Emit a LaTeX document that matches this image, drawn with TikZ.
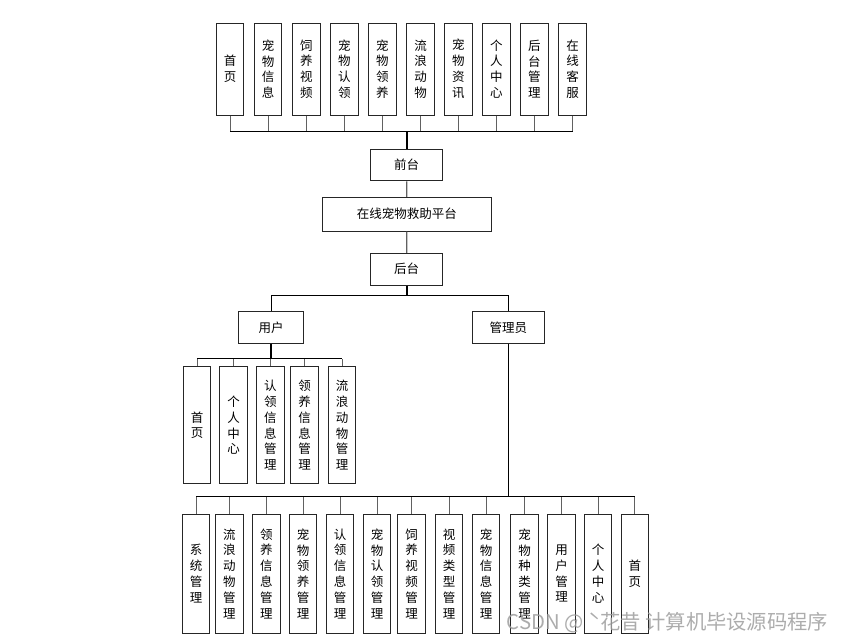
\documentclass[tikz,border=0pt]{standalone}
\usepackage{fontspec}
\newfontfamily\cjk{Noto Sans CJK SC}
\begin{document}
\begin{tikzpicture}[x=1pt,y=-1pt,every node/.style={font=\cjk\fontsize{12.5}{15.8}\selectfont},
    caja/.style={draw=black!85,line width=1pt,fill=white,inner sep=0pt,align=center},
    vcaja/.style={caja,minimum width=27.5,minimum height=#1},
    rama/.style={draw=black!62,line width=1pt},
    bus/.style={draw=black,line width=1pt},
    tronco/.style={draw=black,line width=1.8pt}]
    \useasboundingbox (0,0) rectangle (845,641);
    % Estructura del sitio: front, plataforma y back.
    \foreach \x/\txt [count=\i] in {230/{首\\页},268/{宠\\物\\信\\息},306.3/{饲\\养\\视\\频},344.3/{宠\\物\\认\\领},382.3/{宠\\物\\领\\养},420.7/{流\\浪\\动\\物},458.3/{宠\\物\\资\\讯},496.3/{个\\人\\中\\心},534.3/{后\\台\\管\\理},572.5/{在\\线\\客\\服}}
        \node[vcaja=92] (t\i) at (\x,69) {\txt};
    \coordinate (jt) at (406.7,131);
    \node[caja,minimum width=71.5,minimum height=31.7] (front) at (406.7,165) {前台};
    \node[caja,minimum width=169.5,minimum height=33.7] (plat) at (406.8,214.2) {在线宠物救助平台};
    \node[caja,minimum width=71.5,minimum height=31.7] (back) at (406.7,269.2) {后台};
    \foreach \i in {1,...,10}
        \draw[rama] (t\i.south) -- (t\i.south |- jt);
    \draw[bus] (t1.south |- jt) -- (t10.south |- jt);
    \draw[tronco] (jt) -- (front.north);
    \draw[rama,line width=1.4pt] (front) -- (plat);
    \draw[rama,line width=1.4pt] (plat) -- (back);

    \coordinate (jb) at (406.7,295.3);
    \node[caja,minimum width=64.3,minimum height=31.6] (user) at (271,327.5) {用户};
    \node[caja,minimum width=72,minimum height=31.6] (admin) at (508.3,327.5) {管理员};
    \draw[tronco] (back.south) -- (jb);
    \draw[bus] (user.north) |- (jb) -| (admin.north);

    % Usuario
    \coordinate (ju) at (271,358.7);
    \foreach \x/\txt [count=\i] in {197/{首\\页},233.7/{个\\人\\中\\心},270.3/{认\\领\\信\\息\\管\\理},304.5/{领\\养\\信\\息\\管\\理},342/{流\\浪\\动\\物\\管\\理}}
        \node[vcaja=117.3] (u\i) at (\x,425.3) {\txt};
    \foreach \i in {1,...,5}
        \draw[rama] (u\i.north) -- (u\i.north |- ju);
    \draw[bus] (u1.north |- ju) -- (u5.north |- ju);
    \draw[tronco] (user.south) -- (ju);

    % Administrador
    \coordinate (ja) at (508.3,496.7);
    \foreach \x/\txt [count=\i] in {196.2/{系\\统\\管\\理},229.3/{流\\浪\\动\\物\\管\\理},266.3/{领\\养\\信\\息\\管\\理},303.2/{宠\\物\\领\\养\\管\\理},340/{认\\领\\信\\息\\管\\理},377/{宠\\物\\认\\领\\管\\理},411.5/{饲\\养\\视\\频\\管\\理},449.2/{视\\频\\类\\型\\管\\理},486.2/{宠\\物\\信\\息\\管\\理},524.7/{宠\\物\\种\\类\\管\\理},561.5/{用\\户\\管\\理},598.2/{个\\人\\中\\心},634.8/{首\\页}}
        \node[vcaja=119.3] (a\i) at (\x,573.7) {\txt};
    \foreach \i in {1,...,13}
        \draw[rama] (a\i.north) -- (a\i.north |- ja);
    \draw[bus] (a1.north |- ja) -- (a13.north |- ja);
    \draw[bus] (admin.south) -- (ja);

    \node[text=black!38,opacity=.85,font=\cjk\fontsize{20.3}{20.3}\selectfont,anchor=west,inner sep=0pt] (marca) at (506.5,622.5) {CSDN @ ˋ花昔 计算机毕设源码程序};
\end{tikzpicture}
\end{document}
